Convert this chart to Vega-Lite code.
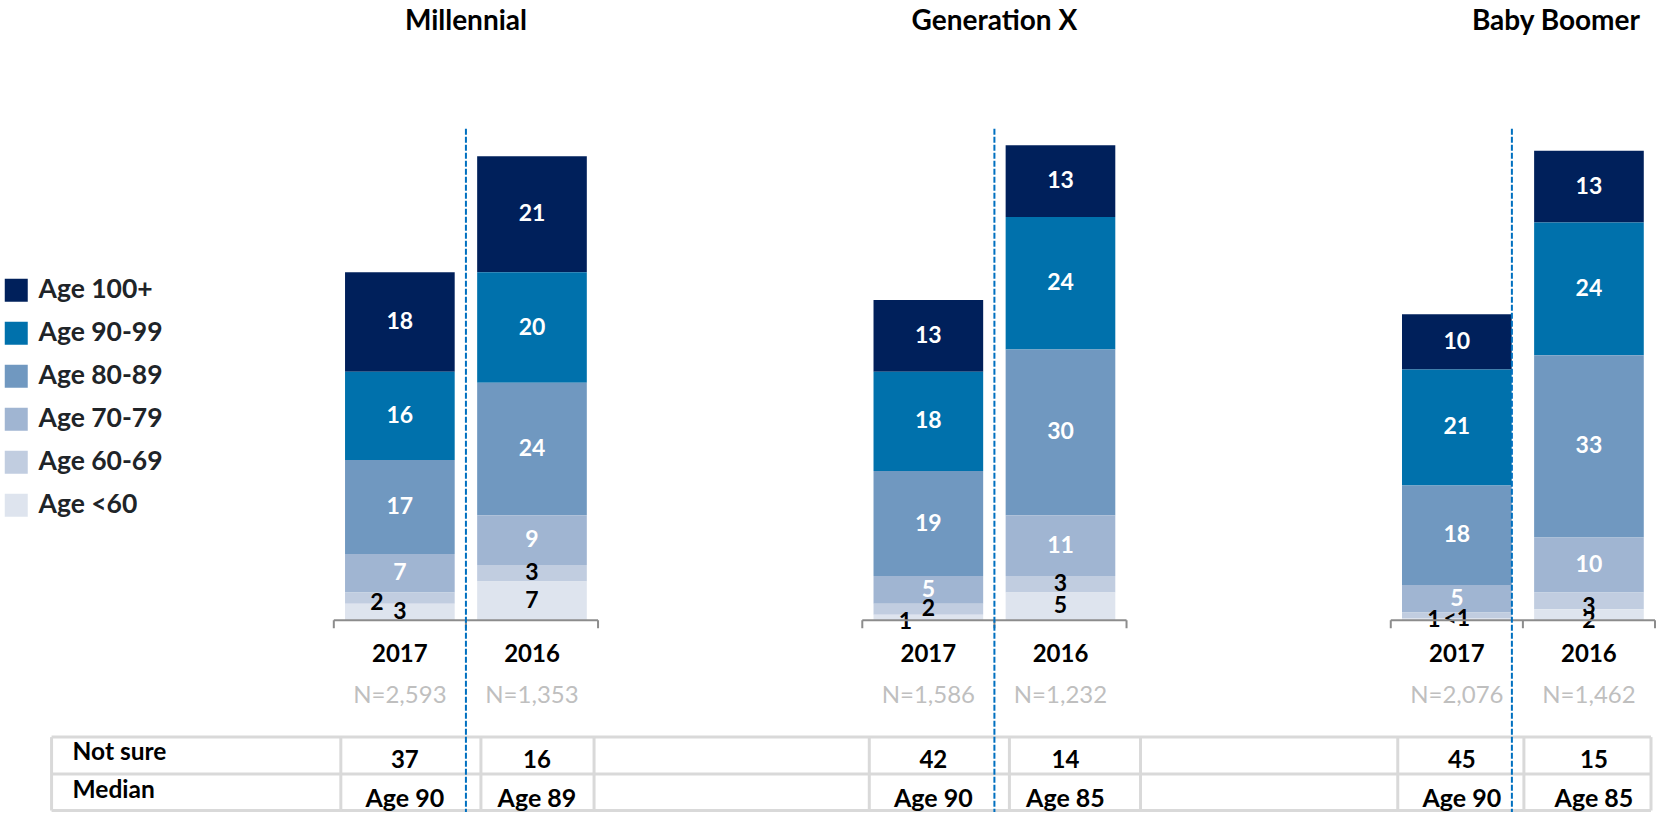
{
  "$schema": "https://vega.github.io/schema/vega-lite/v6.json",
  "width": 1657,
  "height": 813,
  "autosize": {"type": "fit", "contains": "padding"},
  "padding": 0,
  "background": "white",
  "config": {
    "view": {"stroke": null},
    "font": "Lato",
    "text": {"font": "Lato"},
    "legend": {"labelFont": "Lato"}
  },
  "datasets": {
    "bars": [
      {"gen": "Millennial", "slot": "M2017", "age": "Age 100+", "k": 5, "value": 18, "label": "18"},
      {"gen": "Millennial", "slot": "M2017", "age": "Age 90-99", "k": 4, "value": 16, "label": "16"},
      {"gen": "Millennial", "slot": "M2017", "age": "Age 80-89", "k": 3, "value": 17, "label": "17"},
      {"gen": "Millennial", "slot": "M2017", "age": "Age 70-79", "k": 2, "value": 7, "label": "7"},
      {"gen": "Millennial", "slot": "M2017", "age": "Age 60-69", "k": 1, "value": 2, "label": "2"},
      {"gen": "Millennial", "slot": "M2017", "age": "Age <60", "k": 0, "value": 3, "label": "3"},
      {"gen": "Millennial", "slot": "M2016", "age": "Age 100+", "k": 5, "value": 21, "label": "21"},
      {"gen": "Millennial", "slot": "M2016", "age": "Age 90-99", "k": 4, "value": 20, "label": "20"},
      {"gen": "Millennial", "slot": "M2016", "age": "Age 80-89", "k": 3, "value": 24, "label": "24"},
      {"gen": "Millennial", "slot": "M2016", "age": "Age 70-79", "k": 2, "value": 9, "label": "9"},
      {"gen": "Millennial", "slot": "M2016", "age": "Age 60-69", "k": 1, "value": 3, "label": "3"},
      {"gen": "Millennial", "slot": "M2016", "age": "Age <60", "k": 0, "value": 7, "label": "7"},
      {"gen": "Generation X", "slot": "G2017", "age": "Age 100+", "k": 5, "value": 13, "label": "13"},
      {"gen": "Generation X", "slot": "G2017", "age": "Age 90-99", "k": 4, "value": 18, "label": "18"},
      {"gen": "Generation X", "slot": "G2017", "age": "Age 80-89", "k": 3, "value": 19, "label": "19"},
      {"gen": "Generation X", "slot": "G2017", "age": "Age 70-79", "k": 2, "value": 5, "label": "5"},
      {"gen": "Generation X", "slot": "G2017", "age": "Age 60-69", "k": 1, "value": 2, "label": "2"},
      {"gen": "Generation X", "slot": "G2017", "age": "Age <60", "k": 0, "value": 1, "label": "1"},
      {"gen": "Generation X", "slot": "G2016", "age": "Age 100+", "k": 5, "value": 13, "label": "13"},
      {"gen": "Generation X", "slot": "G2016", "age": "Age 90-99", "k": 4, "value": 24, "label": "24"},
      {"gen": "Generation X", "slot": "G2016", "age": "Age 80-89", "k": 3, "value": 30, "label": "30"},
      {"gen": "Generation X", "slot": "G2016", "age": "Age 70-79", "k": 2, "value": 11, "label": "11"},
      {"gen": "Generation X", "slot": "G2016", "age": "Age 60-69", "k": 1, "value": 3, "label": "3"},
      {"gen": "Generation X", "slot": "G2016", "age": "Age <60", "k": 0, "value": 5, "label": "5"},
      {"gen": "Baby Boomer", "slot": "B2017", "age": "Age 100+", "k": 5, "value": 10, "label": "10"},
      {"gen": "Baby Boomer", "slot": "B2017", "age": "Age 90-99", "k": 4, "value": 21, "label": "21"},
      {"gen": "Baby Boomer", "slot": "B2017", "age": "Age 80-89", "k": 3, "value": 18, "label": "18"},
      {"gen": "Baby Boomer", "slot": "B2017", "age": "Age 70-79", "k": 2, "value": 5, "label": "5"},
      {"gen": "Baby Boomer", "slot": "B2017", "age": "Age 60-69", "k": 1, "value": 1, "label": "1"},
      {"gen": "Baby Boomer", "slot": "B2017", "age": "Age <60", "k": 0, "value": 0.4, "label": "<1"},
      {"gen": "Baby Boomer", "slot": "B2016", "age": "Age 100+", "k": 5, "value": 13, "label": "13"},
      {"gen": "Baby Boomer", "slot": "B2016", "age": "Age 90-99", "k": 4, "value": 24, "label": "24"},
      {"gen": "Baby Boomer", "slot": "B2016", "age": "Age 80-89", "k": 3, "value": 33, "label": "33"},
      {"gen": "Baby Boomer", "slot": "B2016", "age": "Age 70-79", "k": 2, "value": 10, "label": "10"},
      {"gen": "Baby Boomer", "slot": "B2016", "age": "Age 60-69", "k": 1, "value": 3, "label": "3"},
      {"gen": "Baby Boomer", "slot": "B2016", "age": "Age <60", "k": 0, "value": 2, "label": "2"}
    ],
    "cols": [
      {"gen": "Millennial", "year": "2017", "slot": "M2017", "n": "N=2,593"},
      {"gen": "Millennial", "year": "2016", "slot": "M2016", "n": "N=1,353"},
      {"gen": "Generation X", "year": "2017", "slot": "G2017", "n": "N=1,586"},
      {"gen": "Generation X", "year": "2016", "slot": "G2016", "n": "N=1,232"},
      {"gen": "Baby Boomer", "year": "2017", "slot": "B2017", "n": "N=2,076"},
      {"gen": "Baby Boomer", "year": "2016", "slot": "B2016", "n": "N=1,462"}
    ],
    "groups": [
      {"gen": "Millennial", "a": "M2017", "b": "M2016"},
      {"gen": "Generation X", "a": "G2017", "b": "G2016"},
      {"gen": "Baby Boomer", "a": "B2017", "b": "B2016"}
    ],
    "table": [
      {"slot": "M2017", "row": "Not sure", "text": "37"},
      {"slot": "M2016", "row": "Not sure", "text": "16"},
      {"slot": "G2017", "row": "Not sure", "text": "42"},
      {"slot": "G2016", "row": "Not sure", "text": "14"},
      {"slot": "B2017", "row": "Not sure", "text": "45"},
      {"slot": "B2016", "row": "Not sure", "text": "15"},
      {"slot": "M2017", "row": "Median", "text": "Age 90"},
      {"slot": "M2016", "row": "Median", "text": "Age 89"},
      {"slot": "G2017", "row": "Median", "text": "Age 90"},
      {"slot": "G2016", "row": "Median", "text": "Age 85"},
      {"slot": "B2017", "row": "Median", "text": "Age 90"},
      {"slot": "B2016", "row": "Median", "text": "Age 85"}
    ],
    "rowlabels": [
      {"row": "Not sure", "slot": "s0"},
      {"row": "Median", "slot": "s0"}
    ],
    "span": [
      {"from": "s0", "to": "B2016"}
    ]
  },
  "layer": [
    {
      "data": {"name": "bars"},
      "transform": [
        {"stack": "value", "groupby": ["slot"], "sort": [{"field": "k", "order": "ascending"}], "as": ["y0", "y1"]}
      ],
      "mark": {"type": "bar", "width": {"band": 0.83}},
      "encoding": {
        "x": {"field": "slot", "type": "nominal", "axis": null, "scale": {"type": "band", "domain": ["s0", "s1", "M2017", "M2016", "g1", "g2", "G2017", "G2016", "g3", "g4", "B2017", "B2016"], "paddingInner": 0, "paddingOuter": 0.267, "align": 0.986}},
        "y": {"field": "y0", "type": "quantitative", "axis": null, "scale": {"domain": [-34.72, 112.3], "nice": false, "zero": false}},
        "y2": {"field": "y1"},
        "color": {
          "field": "age",
          "type": "nominal",
          "scale": {
            "domain": ["Age 100+", "Age 90-99", "Age 80-89", "Age 70-79", "Age 60-69", "Age <60"],
            "range": ["#00205B", "#0071AC", "#7098C0", "#A0B5D2", "#C1CDE0", "#DEE4EE"]
          },
          "legend": {
            "title": null,
            "orient": "none",
            "legendX": 3,
            "legendY": 277,
            "symbolType": "square",
            "symbolSize": 529,
            "symbolStrokeWidth": 0,
            "symbolOpacity": 1,
            "labelFont": "Lato",
            "labelFontSize": 26.5,
            "labelFontWeight": "bold",
            "labelColor": "#202428",
            "labelOffset": 9,
            "rowPadding": 16,
            "padding": 0
          }
        }
      }
    },
    {
      "data": {"name": "bars"},
      "transform": [
        {"stack": "value", "groupby": ["slot"], "sort": [{"field": "k", "order": "ascending"}], "as": ["y0", "y1"]},
        {"calculate": "(datum.y0 + datum.y1) / 2", "as": "ym"},
        {"filter": "!((datum.slot == 'M2017' && datum.k == 1) || (datum.slot == 'G2017' && datum.k == 0) || (datum.slot == 'B2017' && datum.k == 1) || (datum.slot == 'B2016' && datum.k <= 1))"}
      ],
      "mark": {"type": "text", "font": "Lato", "fontSize": 23, "fontWeight": "bold", "baseline": "middle", "align": "center"},
      "encoding": {
        "x": {"field": "slot", "type": "nominal", "axis": null, "scale": {"type": "band", "domain": ["s0", "s1", "M2017", "M2016", "g1", "g2", "G2017", "G2016", "g3", "g4", "B2017", "B2016"], "paddingInner": 0, "paddingOuter": 0.267, "align": 0.986}},
        "y": {"field": "ym", "type": "quantitative", "axis": null, "scale": {"domain": [-34.72, 112.3], "nice": false, "zero": false}},
        "text": {"field": "label"},
        "color": {"condition": {"test": "datum.k >= 2", "value": "#FFFFFF"}, "value": "#000000"}
      }
    },
    {
      "data": {"name": "bars"},
      "transform": [
        {"stack": "value", "groupby": ["slot"], "sort": [{"field": "k", "order": "ascending"}], "as": ["y0", "y1"]},
        {"calculate": "(datum.y0 + datum.y1) / 2", "as": "ym"},
        {"filter": "(datum.slot == 'M2017' && datum.k == 1) || (datum.slot == 'G2017' && datum.k == 0) || (datum.slot == 'B2017' && datum.k == 1)"}
      ],
      "mark": {"type": "text", "font": "Lato", "fontSize": 23, "fontWeight": "bold", "baseline": "middle", "align": "center", "dx": -23, "dy": 5, "color": "#000000"},
      "encoding": {
        "x": {"field": "slot", "type": "nominal", "axis": null, "scale": {"type": "band", "domain": ["s0", "s1", "M2017", "M2016", "g1", "g2", "G2017", "G2016", "g3", "g4", "B2017", "B2016"], "paddingInner": 0, "paddingOuter": 0.267, "align": 0.986}},
        "y": {"field": "ym", "type": "quantitative", "axis": null, "scale": {"domain": [-34.72, 112.3], "nice": false, "zero": false}},
        "text": {"field": "label"}
      }
    },
    {
      "data": {"name": "bars"},
      "transform": [
        {"stack": "value", "groupby": ["slot"], "sort": [{"field": "k", "order": "ascending"}], "as": ["y0", "y1"]},
        {"calculate": "(datum.y0 + datum.y1) / 2", "as": "ym"},
        {"filter": "datum.slot == 'B2016' && datum.k <= 1"}
      ],
      "mark": {"type": "text", "font": "Lato", "fontSize": 23, "fontWeight": "bold", "baseline": "middle", "align": "center", "dy": 6, "color": "#000000"},
      "encoding": {
        "x": {"field": "slot", "type": "nominal", "axis": null, "scale": {"type": "band", "domain": ["s0", "s1", "M2017", "M2016", "g1", "g2", "G2017", "G2016", "g3", "g4", "B2017", "B2016"], "paddingInner": 0, "paddingOuter": 0.267, "align": 0.986}},
        "y": {"field": "ym", "type": "quantitative", "axis": null, "scale": {"domain": [-34.72, 112.3], "nice": false, "zero": false}},
        "text": {"field": "label"}
      }
    },
    {
      "data": {"name": "groups"},
      "mark": {"type": "rule", "color": "#8C8C8C", "strokeWidth": 2},
      "encoding": {
        "x": {"field": "a", "type": "nominal", "bandPosition": 0, "axis": null, "scale": {"type": "band", "domain": ["s0", "s1", "M2017", "M2016", "g1", "g2", "G2017", "G2016", "g3", "g4", "B2017", "B2016"], "paddingInner": 0, "paddingOuter": 0.267, "align": 0.986}},
        "x2": {"field": "b", "bandPosition": 1},
        "y": {"datum": 0, "type": "quantitative", "axis": null, "scale": {"domain": [-34.72, 112.3], "nice": false, "zero": false}}
      }
    },
    {
      "data": {"name": "cols"},
      "mark": {"type": "rule", "color": "#8C8C8C", "strokeWidth": 2, "y2Offset": 8},
      "encoding": {
        "x": {"field": "slot", "type": "nominal", "bandPosition": 0, "axis": null, "scale": {"type": "band", "domain": ["s0", "s1", "M2017", "M2016", "g1", "g2", "G2017", "G2016", "g3", "g4", "B2017", "B2016"], "paddingInner": 0, "paddingOuter": 0.267, "align": 0.986}},
        "y": {"datum": 0, "type": "quantitative", "axis": null, "scale": {"domain": [-34.72, 112.3], "nice": false, "zero": false}},
        "y2": {"datum": 0}
      }
    },
    {
      "data": {"name": "groups"},
      "mark": {"type": "rule", "color": "#8C8C8C", "strokeWidth": 2, "y2Offset": 8},
      "encoding": {
        "x": {"field": "b", "type": "nominal", "bandPosition": 1, "axis": null, "scale": {"type": "band", "domain": ["s0", "s1", "M2017", "M2016", "g1", "g2", "G2017", "G2016", "g3", "g4", "B2017", "B2016"], "paddingInner": 0, "paddingOuter": 0.267, "align": 0.986}},
        "y": {"datum": 0, "type": "quantitative", "axis": null, "scale": {"domain": [-34.72, 112.3], "nice": false, "zero": false}},
        "y2": {"datum": 0}
      }
    },
    {
      "data": {"name": "span"},
      "mark": {"type": "rule", "color": "#D9D9D9", "strokeWidth": 3, "xOffset": -18, "x2Offset": -4},
      "encoding": {
        "x": {"field": "from", "type": "nominal", "bandPosition": 0, "axis": null, "scale": {"type": "band", "domain": ["s0", "s1", "M2017", "M2016", "g1", "g2", "G2017", "G2016", "g3", "g4", "B2017", "B2016"], "paddingInner": 0, "paddingOuter": 0.267, "align": 0.986}},
        "x2": {"field": "to", "bandPosition": 1},
        "y": {"datum": -21.16, "type": "quantitative", "axis": null, "scale": {"domain": [-34.72, 112.3], "nice": false, "zero": false}}
      }
    },
    {
      "data": {"name": "span"},
      "mark": {"type": "rule", "color": "#D9D9D9", "strokeWidth": 3, "xOffset": -18, "x2Offset": -4},
      "encoding": {
        "x": {"field": "from", "type": "nominal", "bandPosition": 0, "axis": null, "scale": {"type": "band", "domain": ["s0", "s1", "M2017", "M2016", "g1", "g2", "G2017", "G2016", "g3", "g4", "B2017", "B2016"], "paddingInner": 0, "paddingOuter": 0.267, "align": 0.986}},
        "x2": {"field": "to", "bandPosition": 1},
        "y": {"datum": -27.85, "type": "quantitative", "axis": null, "scale": {"domain": [-34.72, 112.3], "nice": false, "zero": false}}
      }
    },
    {
      "data": {"name": "span"},
      "mark": {"type": "rule", "color": "#D9D9D9", "strokeWidth": 3, "xOffset": -18, "x2Offset": -4},
      "encoding": {
        "x": {"field": "from", "type": "nominal", "bandPosition": 0, "axis": null, "scale": {"type": "band", "domain": ["s0", "s1", "M2017", "M2016", "g1", "g2", "G2017", "G2016", "g3", "g4", "B2017", "B2016"], "paddingInner": 0, "paddingOuter": 0.267, "align": 0.986}},
        "x2": {"field": "to", "bandPosition": 1},
        "y": {"datum": -34.45, "type": "quantitative", "axis": null, "scale": {"domain": [-34.72, 112.3], "nice": false, "zero": false}}
      }
    },
    {
      "data": {"name": "span"},
      "mark": {"type": "rule", "color": "#D9D9D9", "strokeWidth": 3, "xOffset": -18},
      "encoding": {
        "x": {"field": "from", "type": "nominal", "bandPosition": 0, "axis": null, "scale": {"type": "band", "domain": ["s0", "s1", "M2017", "M2016", "g1", "g2", "G2017", "G2016", "g3", "g4", "B2017", "B2016"], "paddingInner": 0, "paddingOuter": 0.267, "align": 0.986}},
        "y": {"datum": -21.16, "type": "quantitative", "axis": null, "scale": {"domain": [-34.72, 112.3], "nice": false, "zero": false}},
        "y2": {"datum": -34.45}
      }
    },
    {
      "data": {"name": "groups"},
      "mark": {"type": "rule", "color": "#D9D9D9", "strokeWidth": 3, "xOffset": 7},
      "encoding": {
        "x": {"field": "a", "type": "nominal", "bandPosition": 0, "axis": null, "scale": {"type": "band", "domain": ["s0", "s1", "M2017", "M2016", "g1", "g2", "G2017", "G2016", "g3", "g4", "B2017", "B2016"], "paddingInner": 0, "paddingOuter": 0.267, "align": 0.986}},
        "y": {"datum": -21.16, "type": "quantitative", "axis": null, "scale": {"domain": [-34.72, 112.3], "nice": false, "zero": false}},
        "y2": {"datum": -34.45}
      }
    },
    {
      "data": {"name": "groups"},
      "transform": [{"filter": "datum.gen != 'Baby Boomer'"}],
      "mark": {"type": "rule", "color": "#D9D9D9", "strokeWidth": 3, "xOffset": 15},
      "encoding": {
        "x": {"field": "b", "type": "nominal", "bandPosition": 0, "axis": null, "scale": {"type": "band", "domain": ["s0", "s1", "M2017", "M2016", "g1", "g2", "G2017", "G2016", "g3", "g4", "B2017", "B2016"], "paddingInner": 0, "paddingOuter": 0.267, "align": 0.986}},
        "y": {"datum": -21.16, "type": "quantitative", "axis": null, "scale": {"domain": [-34.72, 112.3], "nice": false, "zero": false}},
        "y2": {"datum": -34.45}
      }
    },
    {
      "data": {"name": "groups"},
      "transform": [{"filter": "datum.gen == 'Baby Boomer'"}],
      "mark": {"type": "rule", "color": "#D9D9D9", "strokeWidth": 3, "xOffset": 1},
      "encoding": {
        "x": {"field": "b", "type": "nominal", "bandPosition": 0, "axis": null, "scale": {"type": "band", "domain": ["s0", "s1", "M2017", "M2016", "g1", "g2", "G2017", "G2016", "g3", "g4", "B2017", "B2016"], "paddingInner": 0, "paddingOuter": 0.267, "align": 0.986}},
        "y": {"datum": -21.16, "type": "quantitative", "axis": null, "scale": {"domain": [-34.72, 112.3], "nice": false, "zero": false}},
        "y2": {"datum": -34.45}
      }
    },
    {
      "data": {"name": "groups"},
      "transform": [{"filter": "datum.gen != 'Generation X'"}],
      "mark": {"type": "rule", "color": "#D9D9D9", "strokeWidth": 3, "xOffset": -4},
      "encoding": {
        "x": {"field": "b", "type": "nominal", "bandPosition": 1, "axis": null, "scale": {"type": "band", "domain": ["s0", "s1", "M2017", "M2016", "g1", "g2", "G2017", "G2016", "g3", "g4", "B2017", "B2016"], "paddingInner": 0, "paddingOuter": 0.267, "align": 0.986}},
        "y": {"datum": -21.16, "type": "quantitative", "axis": null, "scale": {"domain": [-34.72, 112.3], "nice": false, "zero": false}},
        "y2": {"datum": -34.45}
      }
    },
    {
      "data": {"name": "groups"},
      "transform": [{"filter": "datum.gen == 'Generation X'"}],
      "mark": {"type": "rule", "color": "#D9D9D9", "strokeWidth": 3, "xOffset": 14},
      "encoding": {
        "x": {"field": "b", "type": "nominal", "bandPosition": 1, "axis": null, "scale": {"type": "band", "domain": ["s0", "s1", "M2017", "M2016", "g1", "g2", "G2017", "G2016", "g3", "g4", "B2017", "B2016"], "paddingInner": 0, "paddingOuter": 0.267, "align": 0.986}},
        "y": {"datum": -21.16, "type": "quantitative", "axis": null, "scale": {"domain": [-34.72, 112.3], "nice": false, "zero": false}},
        "y2": {"datum": -34.45}
      }
    },
    {
      "data": {"name": "groups"},
      "transform": [{"filter": "datum.gen != 'Baby Boomer'"}],
      "mark": {"type": "rule", "color": "#0070C0", "strokeWidth": 2, "strokeDash": [6, 2]},
      "encoding": {
        "x": {"field": "b", "type": "nominal", "bandPosition": 0, "axis": null, "scale": {"type": "band", "domain": ["s0", "s1", "M2017", "M2016", "g1", "g2", "G2017", "G2016", "g3", "g4", "B2017", "B2016"], "paddingInner": 0, "paddingOuter": 0.267, "align": 0.986}},
        "y": {"datum": 89, "type": "quantitative", "axis": null, "scale": {"domain": [-34.72, 112.3], "nice": false, "zero": false}},
        "y2": {"datum": -34.72}
      }
    },
    {
      "data": {"name": "groups"},
      "transform": [{"filter": "datum.gen == 'Baby Boomer'"}],
      "mark": {"type": "rule", "color": "#0070C0", "strokeWidth": 2, "strokeDash": [6, 2], "xOffset": -11},
      "encoding": {
        "x": {"field": "b", "type": "nominal", "bandPosition": 0, "axis": null, "scale": {"type": "band", "domain": ["s0", "s1", "M2017", "M2016", "g1", "g2", "G2017", "G2016", "g3", "g4", "B2017", "B2016"], "paddingInner": 0, "paddingOuter": 0.267, "align": 0.986}},
        "y": {"datum": 89, "type": "quantitative", "axis": null, "scale": {"domain": [-34.72, 112.3], "nice": false, "zero": false}},
        "y2": {"datum": -34.72}
      }
    },
    {
      "data": {"name": "groups"},
      "transform": [{"filter": "datum.gen != 'Baby Boomer'"}],
      "mark": {"type": "text", "font": "Lato", "fontSize": 28, "fontWeight": "bold", "align": "center", "baseline": "middle", "color": "#000000"},
      "encoding": {
        "x": {"field": "b", "type": "nominal", "bandPosition": 0, "axis": null, "scale": {"type": "band", "domain": ["s0", "s1", "M2017", "M2016", "g1", "g2", "G2017", "G2016", "g3", "g4", "B2017", "B2016"], "paddingInner": 0, "paddingOuter": 0.267, "align": 0.986}},
        "y": {"datum": 108.4, "type": "quantitative", "axis": null, "scale": {"domain": [-34.72, 112.3], "nice": false, "zero": false}},
        "text": {"field": "gen"}
      }
    },
    {
      "data": {"name": "groups"},
      "transform": [{"filter": "datum.gen == 'Baby Boomer'"}],
      "mark": {"type": "text", "font": "Lato", "fontSize": 28, "fontWeight": "bold", "align": "center", "baseline": "middle", "color": "#000000", "dx": 33},
      "encoding": {
        "x": {"field": "b", "type": "nominal", "bandPosition": 0, "axis": null, "scale": {"type": "band", "domain": ["s0", "s1", "M2017", "M2016", "g1", "g2", "G2017", "G2016", "g3", "g4", "B2017", "B2016"], "paddingInner": 0, "paddingOuter": 0.267, "align": 0.986}},
        "y": {"datum": 108.4, "type": "quantitative", "axis": null, "scale": {"domain": [-34.72, 112.3], "nice": false, "zero": false}},
        "text": {"field": "gen"}
      }
    },
    {
      "data": {"name": "cols"},
      "mark": {"type": "text", "font": "Lato", "fontSize": 24, "fontWeight": "bold", "align": "center", "baseline": "middle", "color": "#000000", "dy": 35},
      "encoding": {
        "x": {"field": "slot", "type": "nominal", "axis": null, "scale": {"type": "band", "domain": ["s0", "s1", "M2017", "M2016", "g1", "g2", "G2017", "G2016", "g3", "g4", "B2017", "B2016"], "paddingInner": 0, "paddingOuter": 0.267, "align": 0.986}},
        "y": {"datum": 0, "type": "quantitative", "axis": null, "scale": {"domain": [-34.72, 112.3], "nice": false, "zero": false}},
        "text": {"field": "year"}
      }
    },
    {
      "data": {"name": "cols"},
      "mark": {"type": "text", "font": "Lato", "fontSize": 24, "align": "center", "baseline": "middle", "color": "#BFBFBF", "dy": 76},
      "encoding": {
        "x": {"field": "slot", "type": "nominal", "axis": null, "scale": {"type": "band", "domain": ["s0", "s1", "M2017", "M2016", "g1", "g2", "G2017", "G2016", "g3", "g4", "B2017", "B2016"], "paddingInner": 0, "paddingOuter": 0.267, "align": 0.986}},
        "y": {"datum": 0, "type": "quantitative", "axis": null, "scale": {"domain": [-34.72, 112.3], "nice": false, "zero": false}},
        "text": {"field": "n"}
      }
    },
    {
      "data": {"name": "rowlabels"},
      "transform": [{"filter": "datum.row == 'Not sure'"}],
      "mark": {"type": "text", "font": "Lato", "fontSize": 24.5, "fontWeight": "bold", "align": "left", "baseline": "middle", "color": "#000000", "dx": 3},
      "encoding": {
        "x": {"field": "slot", "type": "nominal", "bandPosition": 0, "axis": null, "scale": {"type": "band", "domain": ["s0", "s1", "M2017", "M2016", "g1", "g2", "G2017", "G2016", "g3", "g4", "B2017", "B2016"], "paddingInner": 0, "paddingOuter": 0.267, "align": 0.986}},
        "y": {"datum": -24.05, "type": "quantitative", "axis": null, "scale": {"domain": [-34.72, 112.3], "nice": false, "zero": false}},
        "text": {"field": "row"}
      }
    },
    {
      "data": {"name": "rowlabels"},
      "transform": [{"filter": "datum.row == 'Median'"}],
      "mark": {"type": "text", "font": "Lato", "fontSize": 24.5, "fontWeight": "bold", "align": "left", "baseline": "middle", "color": "#000000", "dx": 3},
      "encoding": {
        "x": {"field": "slot", "type": "nominal", "bandPosition": 0, "axis": null, "scale": {"type": "band", "domain": ["s0", "s1", "M2017", "M2016", "g1", "g2", "G2017", "G2016", "g3", "g4", "B2017", "B2016"], "paddingInner": 0, "paddingOuter": 0.267, "align": 0.986}},
        "y": {"datum": -30.9, "type": "quantitative", "axis": null, "scale": {"domain": [-34.72, 112.3], "nice": false, "zero": false}},
        "text": {"field": "row"}
      }
    },
    {
      "data": {"name": "table"},
      "transform": [{"filter": "datum.row == 'Not sure'"}],
      "mark": {"type": "text", "font": "Lato", "fontSize": 24, "fontWeight": "bold", "align": "center", "baseline": "middle", "color": "#000000", "dx": 5},
      "encoding": {
        "x": {"field": "slot", "type": "nominal", "axis": null, "scale": {"type": "band", "domain": ["s0", "s1", "M2017", "M2016", "g1", "g2", "G2017", "G2016", "g3", "g4", "B2017", "B2016"], "paddingInner": 0, "paddingOuter": 0.267, "align": 0.986}},
        "y": {"datum": -25.5, "type": "quantitative", "axis": null, "scale": {"domain": [-34.72, 112.3], "nice": false, "zero": false}},
        "text": {"field": "text"}
      }
    },
    {
      "data": {"name": "table"},
      "transform": [{"filter": "datum.row == 'Median'"}],
      "mark": {"type": "text", "font": "Lato", "fontSize": 25, "fontWeight": "bold", "align": "center", "baseline": "middle", "color": "#000000", "dx": 5},
      "encoding": {
        "x": {"field": "slot", "type": "nominal", "axis": null, "scale": {"type": "band", "domain": ["s0", "s1", "M2017", "M2016", "g1", "g2", "G2017", "G2016", "g3", "g4", "B2017", "B2016"], "paddingInner": 0, "paddingOuter": 0.267, "align": 0.986}},
        "y": {"datum": -32.4, "type": "quantitative", "axis": null, "scale": {"domain": [-34.72, 112.3], "nice": false, "zero": false}},
        "text": {"field": "text"}
      }
    }
  ]
}
